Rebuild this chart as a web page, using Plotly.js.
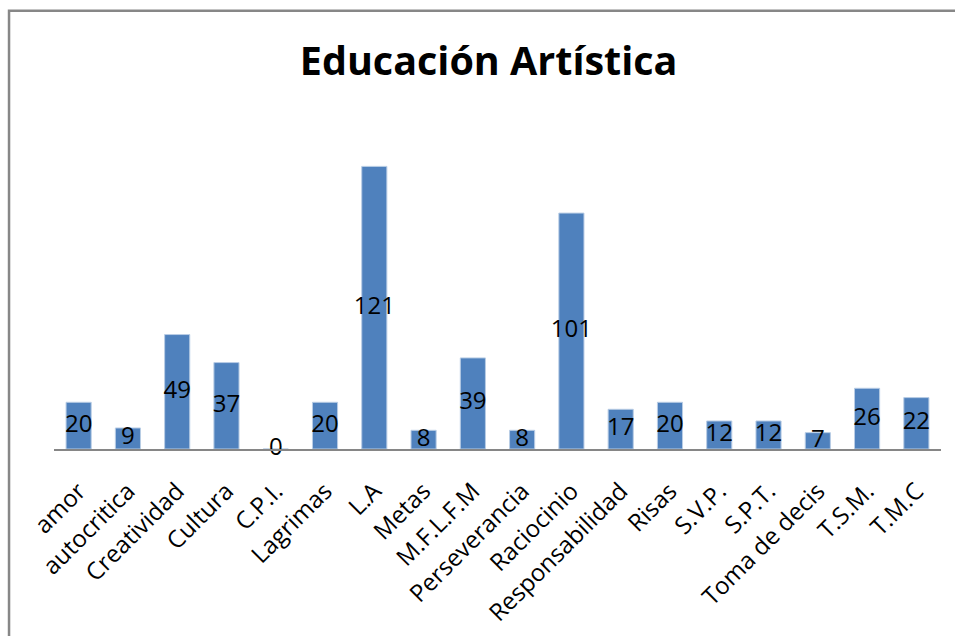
<!DOCTYPE html>
<html>
<head>
<meta charset="utf-8">
<script src="https://cdn.plot.ly/plotly-3.0.1.min.js"></script>
<style>
html,body{margin:0;padding:0;background:#fff;}
#chart{width:955px;height:636px;}
</style>
</head>
<body>
<div id="chart"></div>
<script>
const categories = ["amor","autocritica","Creatividad","Cultura","C.P.I.","Lagrimas","L.A","Metas","M.F.L.F.M","Perseverancia","Raciocinio","Responsabilidad","Risas","S.V.P.","S.P.T.","Toma de decis","T.S.M.","T.M.C"];
const values = [20,9,49,37,0,20,121,8,39,8,101,17,20,12,12,7,26,22];
const chartTitle = "Educación Artística";

const labelY = values.map(v => v / 2);
const labelText = values.map(v => String(v));

const bars = {
  type: "bar",
  x: categories,
  y: values,
  marker: {color: "#4F81BD", line: {color: "#B9CDE5", width: 1}},
  width: 0.51,
  hoverinfo: "x+y"
};
const labels = {
  type: "scatter",
  mode: "text",
  x: categories,
  y: labelY,
  text: labelText,
  textposition: "middle center",
  textfont: {family: "Open Sans, sans-serif", size: 24, color: "#000"},
  cliponaxis: false,
  hoverinfo: "skip"
};

const layout = {
  width: 955,
  height: 636,
  paper_bgcolor: "#fff",
  plot_bgcolor: "rgba(0,0,0,0)",
  showlegend: false,
  margin: {l: 54, r: 14, t: 121.5, b: 187, pad: 0, autoexpand: false},
  title: {
    text: chartTitle,
    font: {family: "Open Sans, sans-serif", size: 39.5, color: "#000", weight: 700},
    x: 0.490, xref: "paper", xanchor: "center",
    y: 1 - 61/636, yref: "container", yanchor: "middle",
    automargin: false
  },
  xaxis: {
    type: "category",
    range: [-0.5, categories.length - 0.5],
    automargin: false,
    showline: true,
    linecolor: "#868686",
    linewidth: 1.5,
    showgrid: false,
    zeroline: false,
    ticks: "",
    tickangle: -45,
    ticklabelstandoff: 17,
    tickfont: {family: "Open Sans, sans-serif", size: 24, color: "#000"},
    fixedrange: true
  },
  yaxis: {
    range: [0, 140],
    visible: false,
    automargin: false,
    showgrid: false,
    zeroline: false,
    fixedrange: true
  },
  shapes: [{
    type: "path",
    xref: "paper", yref: "paper",
    path: "M -0.0507 -1 L -0.0507 1.3405 L 1.2 1.3405",
    line: {color: "#878787", width: 2.5}
  }]
};

Plotly.newPlot("chart", [bars, labels], layout, {displayModeBar: false, staticPlot: true});
</script>
</body>
</html>
